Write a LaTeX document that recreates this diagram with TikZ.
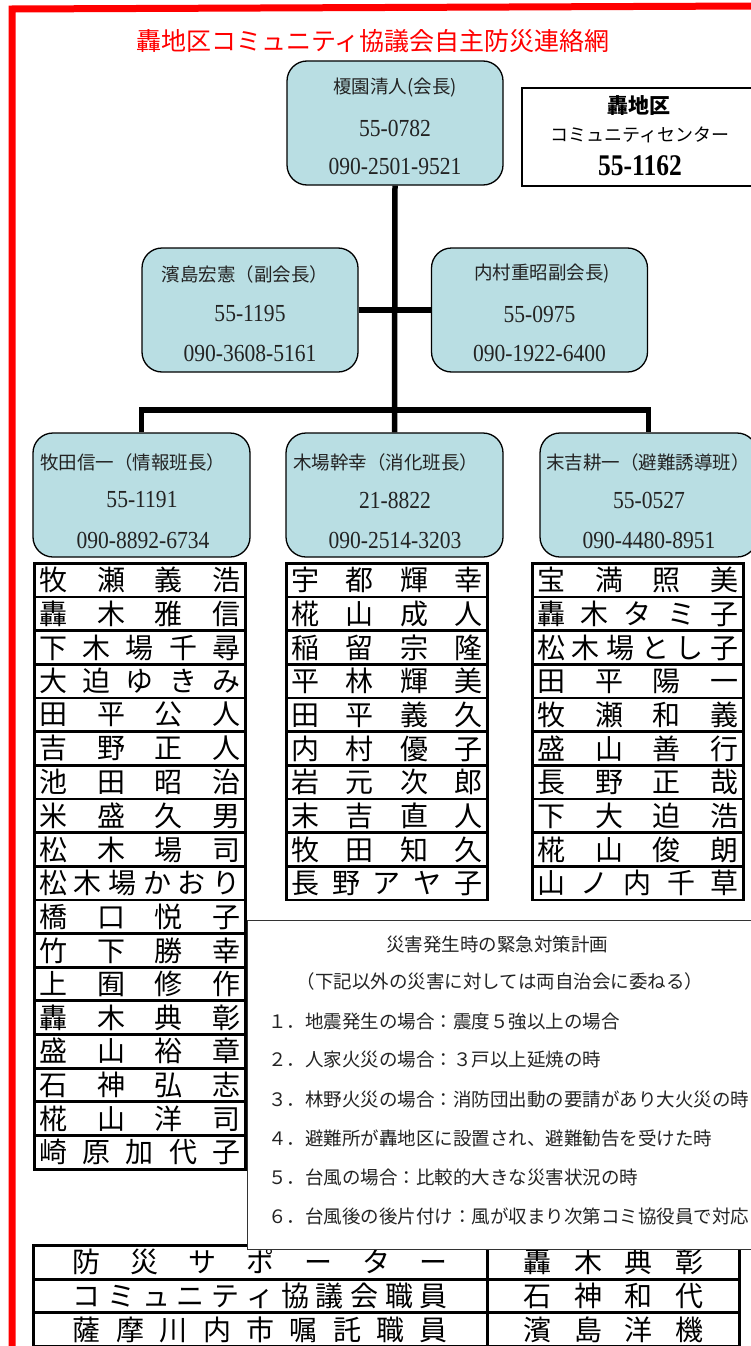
\documentclass[tikz,border=0pt]{standalone}
\usepackage{fontspec}
\usepackage{graphicx}
\setmainfont{Liberation Serif}
\newfontfamily\jp{Noto Sans CJK JP}
\newfontfamily\dig{Liberation Serif}
\definecolor{nodeblue}{RGB}{185,222,227}
\definecolor{txtgray}{RGB}{35,35,35}
\newcommand\spr[2]{\hbox to #1{\spaceskip=0pt plus 1fil\relax #2}}
\newcommand\dg[1]{\scalebox{0.88}[1]{#1}}
\newcommand\namefont{\jp\fontsize{28}{30}\selectfont}
\tikzset{
  pbox/.style={draw=black, line width=1.3pt, fill=nodeblue, rounded corners=20pt,
    minimum width=216pt, minimum height=124pt, inner sep=0pt},
  conn/.style={line width=5.5pt},
  namebox/.style={draw=black, line width=2.8pt, minimum height=33.65pt, inner sep=0pt, anchor=north west},
  jptxt/.style={font=\jp\fontsize{18.5}{20}\selectfont, text=txtgray, inner sep=0pt},
  digtxt/.style={font=\dig\fontsize{24.5}{26}\selectfont, text=txtgray, inner sep=0pt},
  plantxt/.style={font=\jp\fontsize{18.5}{20}\selectfont, text=txtgray, inner sep=0pt},
}
\newcommand\namelist[5]{%
  \foreach \nm [count=\i] in {#5}{
    \node[namebox, minimum width=#4pt] (#1\i) at (#2,{#3+(\i-1)*33.65}) {\namefont\spr{\dimexpr#4pt-10pt\relax}{\nm}};
  }}
\begin{document}
\begin{tikzpicture}[x=1pt,y=-1pt]
\useasboundingbox (0,0) rectangle (751,1346);
\fill[white] (0,0) rectangle (751,1346);
% red frame
\draw[red, line width=7pt] (12,1352) -- (12,9) -- (758,6);
% title
\node[font=\jp\fontsize{25}{27}\selectfont, text=red, inner sep=0pt] (title) at (373,41) {轟地区コミュニティ協議会自主防災連絡網};
% info box
\node[draw=black, line width=1.8pt, minimum width=240pt, minimum height=98pt, anchor=north west, inner sep=0pt] (info) at (521,87) {};
\node[font=\jp\bfseries\fontsize{21}{24}\selectfont, inner sep=0pt] (info1) at (639,106) {轟地区};
\node[font=\jp\fontsize{18}{20}\selectfont, inner sep=0pt] (info2) at (640,135) {コミュニティセンター};
\node[font=\dig\bfseries\fontsize{30}{32}\selectfont, inner sep=0pt] (info3) at (640,166) {\scalebox{0.85}[1]{55-1162}};
% boxes
\node[pbox] (t) at (395,123) {};
\node[pbox] (s1) at (250,310) {};
\node[pbox] (s2) at (539.5,310) {};
\node[pbox, minimum width=217pt] (a) at (141.5,495) {};
\node[pbox, minimum width=217pt] (b) at (394.5,495) {};
\node[pbox, minimum width=217pt] (c) at (648.5,495) {};
% connectors
\coordinate (j) at (395,410);
\draw[conn] (t.south) -- (b.north);
\draw[conn] (s1.east) -- (s2.west);
\draw[conn] (a.north) |- (j) -| (c.north);
% box texts
\node[jptxt] (t1) at (395,88) {榎園清人(会長)};
\node[digtxt] (t2) at (395,128) {\dg{55-0782}};
\node[digtxt] (t3) at (395,166) {\dg{090-2501-9521}};
\node[jptxt] (s1a) at (245,274) {濱島宏憲（副会長）};
\node[digtxt] (s1b) at (250,314) {\dg{55-1195}};
\node[digtxt] (s1c) at (250,353) {\dg{090-3608-5161}};
\node[jptxt] (s2a) at (542,274) {内村重昭副会長)};
\node[digtxt] (s2b) at (539.5,314) {\dg{55-0975}};
\node[digtxt] (s2c) at (539.5,353) {\dg{090-1922-6400}};
\node[jptxt, anchor=west] (a1) at (40,462) {牧田信一（情報班長）};
\node[digtxt] (a2) at (142,500) {\dg{55-1191}};
\node[digtxt] (a3) at (143,540) {\dg{090-8892-6734}};
\node[jptxt, anchor=west] (b1) at (293,462) {木場幹幸（消化班長）};
\node[digtxt] (b2) at (395,500) {\dg{21-8822}};
\node[digtxt] (b3) at (395,540) {\dg{090-2514-3203}};
\node[jptxt, anchor=west] (c1) at (546,462) {末吉耕一（避難誘導班）};
\node[digtxt] (c2) at (649,500) {\dg{55-0527}};
\node[digtxt] (c3) at (649,540) {\dg{090-4480-8951}};
% name lists
\namelist{L}{33}{562}{211}{牧 瀬 義 浩, 轟 木 雅 信, 下 木 場 千 尋, 大 迫 ゆ き み, 田 平 公 人, 吉 野 正 人, 池 田 昭 治, 米 盛 久 男, 松 木 場 司, 松 木 場 か お り, 橋 口 悦 子, 竹 下 勝 幸, 上 囿 修 作, 轟 木 典 彰, 盛 山 裕 章, 石 神 弘 志, 椛 山 洋 司, 崎 原 加 代 子}
\namelist{M}{285}{562}{201}{宇 都 輝 幸, 椛 山 成 人, 稲 留 宗 隆, 平 林 輝 美, 田 平 義 久, 内 村 優 子, 岩 元 次 郎, 末 吉 直 人, 牧 田 知 久, 長 野 ア ヤ 子}
\namelist{R}{531}{562}{211}{宝 満 照 美, 轟 木 タ ミ 子, 松 木 場 と し 子, 田 平 陽 一, 牧 瀬 和 義, 盛 山 善 行, 長 野 正 哉, 下 大 迫 浩, 椛 山 俊 朗, 山 ノ 内 千 草}
% bottom table
\foreach \lt/\rt [count=\i] in {防 災 サ ポ ー タ ー/轟 木 典 彰, コ ミ ュ ニ テ ィ 協 議 会 職 員/石 神 和 代, 薩 摩 川 内 市 嘱 託 職 員/濱 島 洋 機}{
  \node[namebox, minimum width=454pt] (BL\i) at (32,{1244+(\i-1)*33.7}) {\namefont\spr{375pt}{\lt}};
  \node[namebox, minimum width=252pt] (BR\i) at (486,{1244+(\i-1)*33.7}) {\namefont\spr{180pt}{\rt}};
}
% plan box
\node[draw=black!80, fill=white, line width=1.3pt, minimum width=513pt, minimum height=329pt, anchor=north west, inner sep=0pt] (plan) at (247,920) {};
\node[plantxt] (p0) at (497,944) {災害発生時の緊急対策計画};
\node[plantxt] (p00) at (500,981) {（下記以外の災害に対しては両自治会に委ねる）};
\node[plantxt, anchor=west] (p1) at (268,1022) {１．地震発生の場合：震度５強以上の場合};
\node[plantxt, anchor=west] (p2) at (268,1059) {２．人家火災の場合：３戸以上延焼の時};
\node[plantxt, anchor=west] (p3) at (268,1099) {３．林野火災の場合：消防団出動の要請があり大火災の時};
\node[plantxt, anchor=west] (p4) at (268,1138) {４．避難所が轟地区に設置され、避難勧告を受けた時};
\node[plantxt, anchor=west] (p5) at (268,1177) {５．台風の場合：比較的大きな災害状況の時};
\node[plantxt, anchor=west] (p6) at (268,1216) {６．台風後の後片付け：風が収まり次第コミ協役員で対応};
\end{tikzpicture}
\end{document}
